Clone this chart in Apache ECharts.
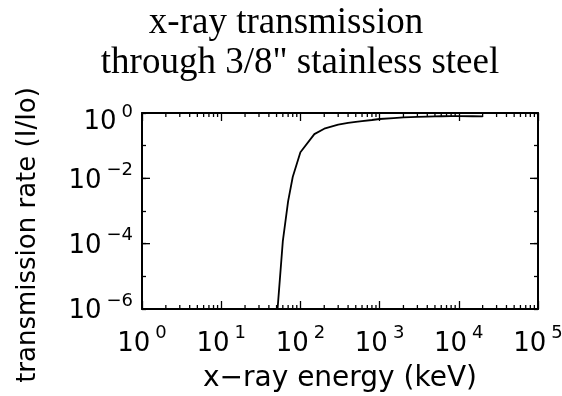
<!DOCTYPE html>
<html><head><meta charset="utf-8">
<script src="https://cdn.jsdelivr.net/npm/echarts@6/dist/echarts.min.js"></script>
<style>html,body{margin:0;padding:0;background:#fff}#c{width:562px;height:396px}</style>
</head><body><div id="c"></div>
<script>
// ---- data ----
const titleLine1 = 'x-ray transmission';
const titleLine2 = 'through 3/8" stainless steel';
const xAxisName = 'x\u2212ray energy (keV)';
const yAxisName = 'transmission rate (I/Io)';
const energyKeV = [50, 60, 70, 80, 100, 150, 200, 300, 400, 500, 600, 800, 1000, 1500, 2000, 3000, 4000, 5000, 6000, 8000, 10000, 15000, 20000];
const transmission = [4.0e-7, 1.2e-4, 2.0e-3, 1.1e-2, 6.3e-2, 0.225, 0.33, 0.44, 0.50, 0.535, 0.565, 0.61, 0.655, 0.70, 0.73, 0.765, 0.78, 0.79, 0.795, 0.80, 0.80, 0.795, 0.79];
const xMinorTicks = [2,3,4,5,6,7,8,9, 20,30,40,50,60,70,80,90, 200,300,400,500,600,700,800,900, 2000,3000,4000,5000,6000,7000,8000,9000, 20000,30000,40000,50000,60000,70000,80000,90000];
const yMajorTicks = [1e-6, 1e-4, 1e-2, 1];

const FONT = 'DejaVu Sans';
function expLabel(v, hideOdd) {
  const e = Math.round(Math.log10(v));
  if (hideOdd && Math.abs(e) % 2 === 1) return '';
  const s = (e < 0 ? '\u2212' : '') + Math.abs(e);
  const txt = '{b|10}{s|' + s + '}';
  if (hideOdd) return (e === 0 ? '{z0| }\n' : '{z| }\n') + txt;
  return txt;
}
const rich = {
  b: {fontFamily: FONT, fontSize: 26, lineHeight: 26, color: '#000'},
  s: {fontFamily: FONT, fontSize: 18, lineHeight: 17, padding: [0, 0, 21, 5], color: '#000'},
  z: {fontFamily: FONT, fontSize: 2, lineHeight: 5, color: '#fff'},
  z0: {fontFamily: FONT, fontSize: 2, lineHeight: 19, color: '#fff'}
};
const lineBlack = {color: '#000', width: 2};
const tickStyle = {color: '#000', width: 1.3};

const chart = echarts.init(document.getElementById('c'), null, {renderer: 'canvas'});
chart.setOption({
  animation: false,
  backgroundColor: '#fff',
  title: [
    {text: titleLine1, left: 286, top: 5, textAlign: 'center', padding: 0,
     textStyle: {fontFamily: 'Liberation Serif', fontSize: 37, fontWeight: 'normal', color: '#000', lineHeight: 37}},
    {text: titleLine2, left: 300, top: 45, textAlign: 'center', padding: 0,
     textStyle: {fontFamily: 'Liberation Serif', fontSize: 37, fontWeight: 'normal', color: '#000', lineHeight: 37}}
  ],
  grid: {left: 142, top: 113, width: 396, height: 196, containLabel: false, outerBoundsMode: 'none'},
  xAxis: [
    {type: 'log', logBase: 10, min: 1, max: 1e5, splitNumber: 5, position: 'bottom',
     axisLine: {onZero: false, lineStyle: lineBlack},
     axisTick: {inside: true, length: 8, lineStyle: tickStyle},
     splitLine: {show: false}, minorTick: {show: false},
     axisLabel: {margin: 22, formatter: v => expLabel(v, false), rich: rich, showMinLabel: true, showMaxLabel: true, hideOverlap: false},
     name: xAxisName, nameLocation: 'middle', nameGap: 51,
     nameTextStyle: {fontFamily: FONT, fontSize: 28, lineHeight: 28, color: '#000'}},
    {type: 'log', logBase: 10, min: 1, max: 1e5, splitNumber: 5, position: 'top',
     axisLine: {onZero: false, lineStyle: lineBlack},
     axisTick: {inside: true, length: 8, lineStyle: tickStyle},
     splitLine: {show: false}, axisLabel: {show: false}}
  ],
  yAxis: [
    {type: 'log', logBase: 10, min: 1e-6, max: 1, splitNumber: 6, position: 'left',
     axisLine: {onZero: false, lineStyle: lineBlack},
     axisTick: {inside: true, length: 4, lineStyle: tickStyle},
     splitLine: {show: false},
     axisLabel: {margin: 9, formatter: v => expLabel(v, true), rich: rich, showMinLabel: true, showMaxLabel: true, hideOverlap: false},
     name: yAxisName, nameLocation: 'middle', nameGap: 101,
     nameTextStyle: {fontFamily: FONT, fontSize: 26, lineHeight: 26, color: '#000', padding: [0, 48, 0, 0]}},
    {type: 'log', logBase: 10, min: 1e-6, max: 1, splitNumber: 6, position: 'right',
     axisLine: {onZero: false, lineStyle: lineBlack},
     axisTick: {inside: true, length: 4, lineStyle: tickStyle},
     splitLine: {show: false}, axisLabel: {show: false}}
  ],
  series: [
    {type: 'line', xAxisIndex: 0, yAxisIndex: 0, showSymbol: false, clip: true, silent: true,
     lineStyle: {color: '#000', width: 1.8}, itemStyle: {color: '#000'},
     data: energyKeV.map((e, i) => [e, transmission[i]])},
    {type: 'custom', xAxisIndex: 0, yAxisIndex: 0, silent: true, clip: false,
     data: xMinorTicks.map(v => [v, 1e-3]),
     renderItem: function (params, api) {
       const cs = params.coordSys;
       const x = api.coord([api.value(0), 1e-3])[0];
       const yb = cs.y + cs.height, yt = cs.y;
       return {type: 'group', children: [
         {type: 'line', shape: {x1: x, y1: yb, x2: x, y2: yb - 4}, style: {stroke: '#000', lineWidth: 1.3}},
         {type: 'line', shape: {x1: x, y1: yt, x2: x, y2: yt + 4}, style: {stroke: '#000', lineWidth: 1.3}}
       ]};
     }},
    {type: 'custom', xAxisIndex: 0, yAxisIndex: 0, silent: true, clip: false,
     data: yMajorTicks.map(v => [10, v]),
     renderItem: function (params, api) {
       const cs = params.coordSys;
       const y = api.coord([10, api.value(1)])[1];
       const xl = cs.x, xr = cs.x + cs.width;
       return {type: 'group', children: [
         {type: 'line', shape: {x1: xl, y1: y, x2: xl + 8, y2: y}, style: {stroke: '#000', lineWidth: 1.3}},
         {type: 'line', shape: {x1: xr, y1: y, x2: xr - 8, y2: y}, style: {stroke: '#000', lineWidth: 1.3}}
       ]};
     }}
  ]
});
</script>
</body></html>
